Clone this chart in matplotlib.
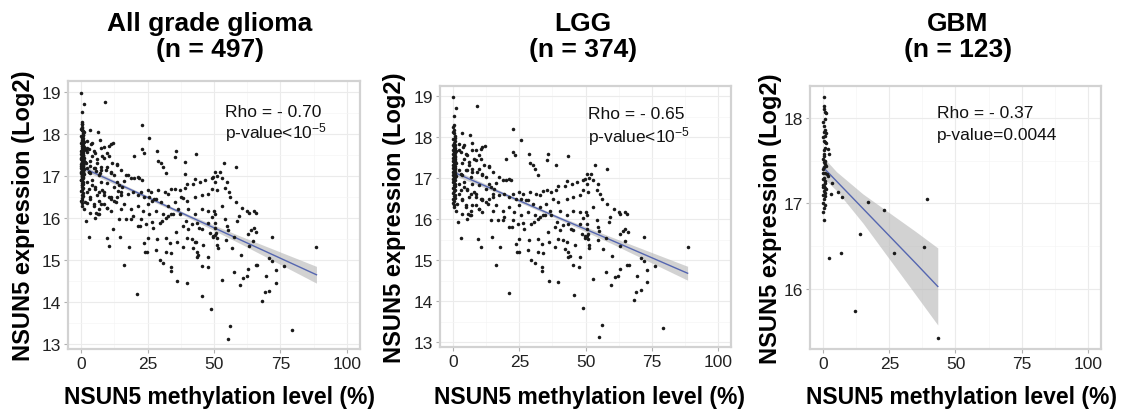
import numpy as np
import matplotlib
matplotlib.use("Agg")
import matplotlib.pyplot as plt

plt.rcParams['font.family'] = ['Liberation Sans', 'DejaVu Sans']
plt.rcParams['mathtext.fontset'] = 'custom'
plt.rcParams['mathtext.rm'] = 'Liberation Sans'
plt.rcParams['mathtext.it'] = 'Liberation Sans'

# ---------------- data ----------------
# LGG: (methylation %, expression log2)
lgg_points = [
    (0, 18.98), (1.16, 18.72), (8.9, 18.76), (0.27, 18.52), (0.27, 18.29), (0.0, 18.13), (0.52, 17.99),
    (3.44, 18.10), (6.24, 18.05), (7.0, 17.86), (22.75, 18.21), (25.67, 17.92), (11.06, 17.76), (11.95, 17.79),
    (8.52, 17.70), (4.08, 17.80), (2.17, 17.68), (4.71, 17.60), (9.79, 17.56), (10.43, 17.48), (7.89, 17.48),
    (13.6, 17.29), (19.96, 17.48), (22.75, 17.64), (23.51, 17.56), (28.59, 17.60), (28.85, 17.37), (30.12, 17.31),
    (30.75, 17.23), (32.02, 17.07), (35.84, 17.60), (35.45, 17.45), (39.01, 17.33), (43.2, 17.53), (50.44, 17.11),
    (49.81, 16.99), (49.17, 16.95), (46.63, 16.91), (44.73, 16.86), (42.82, 16.93), (42.19, 16.82), (39.65, 16.82),
    (39.01, 16.72), (37.11, 16.66), (35.45, 16.70), (33.93, 16.69), (32.66, 16.58), (31.39, 16.62), (28.85, 16.66),
    (28.21, 16.46), (26.31, 16.62), (25.67, 16.50), (25.04, 16.66), (21.86, 16.95), (21.23, 16.99), (19.96, 16.95),
    (18.69, 16.95), (17.42, 17.03), (16.15, 16.88), (15.51, 16.74), (14.24, 16.78), (13.6, 16.86), (12.33, 17.03),
    (11.06, 17.11), (9.16, 17.15), (7.25, 17.23), (5.98, 17.31), (5.35, 17.19), (3.44, 17.07), (2.17, 17.19),
    (2.17, 16.86), (4.08, 16.78), (5.35, 16.70), (6.62, 16.62), (7.89, 16.66), (8.52, 16.54), (10.43, 16.50),
    (11.06, 16.46), (12.33, 16.42), (13.6, 16.50), (14.88, 16.54), (17.42, 16.58), (19.32, 16.62), (21.23, 16.54),
    (22.5, 16.62), (23.77, 16.50), (25.04, 16.34), (27.32, 16.46), (30.12, 16.38), (32.66, 16.29), (35.2, 16.38),
    (37.74, 16.50), (39.65, 16.42), (42.82, 16.50), (45.36, 16.54), (47.9, 16.58), (49.17, 16.70), (51.08, 16.66),
    (2.17, 16.62), (3.44, 16.50), (4.71, 16.34), (6.62, 16.21), (8.52, 16.34), (9.79, 16.25), (11.06, 16.17),
    (14.88, 16.21), (16.15, 16.34), (18.69, 16.21), (21.23, 16.29), (23.13, 16.17), (25.67, 16.09), (28.21, 16.17),
    (30.75, 16.09), (33.93, 16.09), (36.47, 16.21), (40.28, 16.21), (42.82, 16.09), (45.36, 16.21), (47.9, 16.17),
    (50.44, 16.09), (5.73, 16.13), (1.54, 16.38), (0.9, 16.21),
    (1.92, 15.93), (5.35, 16.01), (6.24, 16.11), (14.24, 15.97), (16.78, 15.99), (18.69, 15.97), (19.32, 16.05),
    (22.5, 15.97), (21.23, 15.82), (22.24, 15.81), (24.4, 15.87), (26.56, 15.90), (26.94, 15.77), (29.48, 15.89),
    (30.37, 15.93), (32.02, 16.01), (32.66, 16.05), (34.56, 16.09), (37.11, 16.09), (35.84, 15.68), (38.37, 15.82),
    (39.27, 15.93), (40.28, 15.74), (41.55, 15.85), (43.46, 15.89), (44.35, 15.77), (45.36, 15.74), (47.9, 15.89),
    (49.17, 16.03), (50.44, 15.89), (48.54, 15.64), (49.81, 15.55), (50.44, 15.60), (51.08, 15.52), (3.06, 15.54),
    (9.54, 15.52), (14.62, 15.56), (10.43, 15.33), (17.8, 15.32), (25.04, 15.52), (28.59, 15.50), (32.02, 15.52),
    (23.77, 15.40), (24.02, 15.20), (24.78, 15.20), (28.21, 15.24), (32.02, 15.20), (33.93, 15.17), (33.55, 15.40),
    (36.22, 15.44), (38.37, 15.32), (39.65, 15.52), (41.55, 15.50), (42.82, 15.44), (42.19, 15.28), (43.46, 15.20),
    (44.09, 15.11), (43.46, 15.07), (46.0, 15.36), (47.9, 15.07), (47.65, 14.83), (45.36, 14.87), (16.15, 14.89),
    (29.48, 15.01), (30.75, 14.93), (33.68, 14.83), (33.68, 14.73), (36.22, 14.50), (39.65, 14.46), (20.97, 14.19),
    (45.62, 14.14), (48.92, 13.83),
    (50.5, 15.77), (51.3, 15.36), (51.5, 15.29), (54.6, 15.48), (56.8, 15.28), (60.2, 15.11), (63.1, 15.34),
    (62.9, 15.63), (64.0, 15.72), (65.1, 15.77), (65.9, 15.68), (64.8, 15.46), (57.7, 15.55), (53.0, 14.53),
    (57.7, 14.72), (59.7, 14.40), (61.0, 14.58), (62.3, 14.62), (62.9, 14.79), (65.7, 14.89), (66.3, 14.89),
    (70.8, 15.06), (72.0, 15.56), (72.0, 14.97), (73.3, 14.77), (76.2, 14.85), (69.5, 14.62), (73.3, 14.46),
    (70.8, 14.27), (69.1, 14.23), (68.2, 14.03), (56.2, 13.42), (55.1, 13.13), (79.4, 13.34), (88.6, 15.32),
    (49.8, 15.58), (50.8, 15.64), (54.9, 15.82), (55.1, 15.72), (54.3, 15.99), (58.7, 15.93), (59.3, 16.05),
    (63.1, 16.13), (65.7, 16.13),
    (58.1, 17.23), (53.6, 17.31), (52.1, 17.11), (51.3, 17.00), (53.0, 16.95), (54.9, 16.85), (54.3, 16.72),
    (55.5, 16.62), (56.2, 16.50), (50.5, 16.85), (58.1, 16.38), (60.6, 16.25), (62.5, 16.17), (65.1, 16.17),
    (53.0, 16.30), (50.1, 16.17),
    (2.17, 17.84), (3.7, 17.76), (2.81, 17.64), (7.25, 17.68), (10.43, 17.72), (5.35, 17.56), (4.08, 17.48),
    (3.44, 17.36), (5.98, 17.40), (8.52, 17.44), (11.7, 17.31), (13.6, 17.27), (9.79, 17.23), (7.25, 17.15),
    (4.71, 17.19), (2.81, 17.11), (6.62, 17.03), (11.06, 17.07), (14.88, 17.15), (4.08, 16.91), (7.25, 16.87),
    (9.79, 16.83), (5.35, 16.74), (2.81, 16.70), (12.33, 16.74), (8.52, 16.62), (5.98, 16.54), (3.44, 16.46),
    (11.06, 16.50), (14.88, 16.62), (7.25, 16.34), (4.71, 16.30), (9.79, 16.25), (12.97, 16.38), (3.44, 16.13),
    (6.62, 16.09),
    (0.1, 18.25), (0.4, 18.18), (0.2, 18.10), (0.6, 18.02), (0.1, 17.95), (0.5, 17.90), (0.3, 17.86), (0.8, 17.82),
    (0.0, 17.80), (0.4, 17.77), (0.7, 17.74), (0.2, 17.72), (0.5, 17.70), (0.1, 17.68), (0.9, 17.66), (0.3, 17.63),
    (0.6, 17.61), (0.0, 17.60), (0.4, 17.57), (0.8, 17.55), (0.2, 17.53), (0.5, 17.51), (0.1, 17.49), (0.7, 17.47),
    (0.3, 17.45), (0.0, 17.43), (0.6, 17.41), (0.2, 17.39), (0.9, 17.37), (0.4, 17.34), (0.1, 17.32), (0.5, 17.30),
    (0.3, 17.28), (0.8, 17.26), (0.0, 17.24), (0.6, 17.22), (0.2, 17.20), (0.4, 17.18), (0.1, 17.16), (0.7, 17.14),
    (0.3, 17.12), (0.5, 17.10), (0.0, 17.08), (0.9, 17.06), (0.2, 17.04), (0.6, 17.02), (0.4, 17.00), (0.1, 16.98),
    (0.7, 16.95), (0.3, 16.92), (0.0, 16.90), (0.5, 16.87), (0.2, 16.84), (0.8, 16.81), (0.4, 16.78), (0.1, 16.75),
    (0.6, 16.72), (0.3, 16.68), (0.0, 16.64), (0.5, 16.60), (0.2, 16.56), (0.7, 16.52), (0.1, 16.48), (0.4, 16.44),
    (0.0, 16.40), (0.3, 16.35), (0.2, 16.30),
]

# GBM: (methylation %, expression log2)
gbm_points = [
    (0.26, 18.24), (0.39, 18.14), (0.64, 18.07), (0.9, 18.05), (0.0, 17.95), (0.64, 17.86), (0.39, 17.83),
    (1.0, 17.82), (0.64, 17.79), (0.26, 17.73), (0.9, 17.70), (1.66, 17.63), (0.39, 17.62), (2.17, 17.58),
    (0.0, 17.52), (0.26, 17.48), (0.64, 17.46), (0.9, 17.44), (0.0, 17.40), (1.28, 17.34), (0.39, 17.30),
    (1.92, 17.32), (0.0, 17.28), (0.64, 17.24), (3.19, 17.24), (0.39, 17.20), (0.0, 17.19), (0.9, 17.17),
    (2.93, 17.11), (5.48, 17.13), (7.01, 17.08), (0.0, 17.10), (0.64, 17.09), (0.39, 16.95), (0.0, 16.90),
    (0.26, 16.80), (16.95, 17.02), (22.94, 16.92), (13.76, 16.64), (2.3, 16.36), (6.63, 16.42), (26.76, 16.42),
    (38.22, 16.49), (39.24, 17.05), (12.11, 15.74), (43.3, 15.43),
    (0.1, 17.78), (0.5, 17.65), (0.2, 17.55), (0.7, 17.50), (0.1, 17.35), (0.5, 17.26), (0.2, 17.15),
    (0.8, 17.12), (0.3, 17.05), (0.1, 17.00), (0.6, 16.98), (0.2, 17.90), (0.5, 17.98), (0.3, 18.10),
    (0.7, 17.72), (0.4, 17.58), (0.3, 17.42), (0.6, 17.36), (0.1, 17.22), (0.5, 17.18),
]

# fitted lines with confidence bands
all_fit_x = [0, 20, 40, 60, 88.6]
all_fit_y = [17.22, 16.64, 16.06, 15.48, 14.65]
all_fit_lo = [17.16, 16.60, 16.02, 15.39, 14.45]
all_fit_hi = [17.28, 16.68, 16.10, 15.57, 14.85]

lgg_fit_x = [0, 20, 40, 60, 88.6]
lgg_fit_y = [17.15, 16.59, 16.03, 15.48, 14.68]
lgg_fit_lo = [17.08, 16.55, 15.99, 15.40, 14.51]
lgg_fit_hi = [17.22, 16.63, 16.07, 15.56, 14.85]

gbm_fit_x = [0, 5, 15, 25, 35, 43.3]
gbm_fit_y = [17.42, 17.26, 16.94, 16.62, 16.30, 16.03]
gbm_fit_lo = [17.30, 17.15, 16.77, 16.35, 15.93, 15.58]
gbm_fit_hi = [17.54, 17.37, 17.11, 16.89, 16.67, 16.48]

titles = ["All grade glioma\n(n = 497)", "LGG\n(n = 374)", "GBM\n(n = 123)"]
rho_labels = ["Rho = - 0.70", "Rho = - 0.65", "Rho = - 0.37"]
p_labels = ["p-value<10$^{-5}$", "p-value<10$^{-5}$", "p-value=0.0044"]
x_ticks = [0, 25, 50, 75, 100]
y_ticks_list = [[13, 14, 15, 16, 17, 18, 19], [13, 14, 15, 16, 17, 18, 19], [16, 17, 18]]
ylims = [(12.88, 19.27), (12.88, 19.25), (15.30, 18.37)]

# --------------- figure ---------------
lgg = np.array(lgg_points)
gbm = np.array(gbm_points)
allg = np.vstack([lgg, gbm])
datasets = [allg, lgg, gbm]
fits = [(all_fit_x, all_fit_y, all_fit_lo, all_fit_hi),
        (lgg_fit_x, lgg_fit_y, lgg_fit_lo, lgg_fit_hi),
        (gbm_fit_x, gbm_fit_y, gbm_fit_lo, gbm_fit_hi)]

W, H = 1133, 414
fig = plt.figure(figsize=(W / 100, H / 100), dpi=100)

# axes boxes in pixels: left, top, right, bottom
boxes = [(68, 82, 360, 350), (440, 87, 731, 348), (810, 87, 1101, 350)]
ylabel_x = [24, 395, 770]
title_cx = [210, 583, 958]
xlabel_cx = [220, 590, 962]
rho_pos = [(0.538, 0.888, 0.81), (0.51, 0.893, 0.81), (0.436, 0.90, 0.817)]

for i in range(3):
    l, t, r, b = boxes[i]
    ax = fig.add_axes([l / W, 1 - b / H, (r - l) / W, (b - t) / H])
    d = datasets[i]
    fx, fy, flo, fhi = fits[i]
    ax.fill_between(fx, flo, fhi, color='#b5b5b5', alpha=0.6, lw=0, zorder=2)
    ax.plot(fx, fy, color='#5566b0', lw=1.0, zorder=3)
    ax.scatter(d[:, 0], d[:, 1], s=6.5, color='#1a1a1a', lw=0, zorder=4)
    ax.set_xlim(-5, 105)
    ax.set_ylim(*ylims[i])
    ax.set_xticks(x_ticks)
    ax.set_yticks(y_ticks_list[i])
    ax.set_xticks([12.5, 37.5, 62.5, 87.5], minor=True)
    yt = y_ticks_list[i]
    ax.set_yticks([v + 0.5 for v in yt[:-1]], minor=True)
    ax.grid(True, which='major', color='#ebebeb', lw=0.8, zorder=0)
    ax.grid(True, which='minor', color='#f5f5f5', lw=0.5, zorder=0)
    ax.set_axisbelow(True)
    for s in ax.spines.values():
        s.set_color('#d2d2d2')
        s.set_linewidth(1.6)
    ax.tick_params(which='major', length=3, color='#b0b0b0', width=0.8,
                   labelsize=12.5, labelcolor='#222222', pad=2)
    ax.tick_params(which='minor', length=0)
    ax.text(rho_pos[i][0], rho_pos[i][1], rho_labels[i], transform=ax.transAxes,
            fontsize=12.5, va='center', ha='left', color='#111111')
    ax.text(rho_pos[i][0], rho_pos[i][2], p_labels[i], transform=ax.transAxes,
            fontsize=12.5, va='center', ha='left', color='#111111')

    fig.text(title_cx[i] / W, 1 - 37 / H, titles[i], ha='center', va='center',
             fontsize=19, fontweight='bold', linespacing=1.15)
    fig.text(ylabel_x[i] / W, 1 - ((t + b) / 2) / H, "NSUN5 expression (Log2)",
             rotation=90, ha='center', va='center', fontsize=17, fontweight='bold')
    fig.text(xlabel_cx[i] / W, 1 - 398 / H, "NSUN5 methylation level (%)",
             ha='center', va='center', fontsize=16.5, fontweight='bold')

fig.savefig("out.png", dpi=100)
